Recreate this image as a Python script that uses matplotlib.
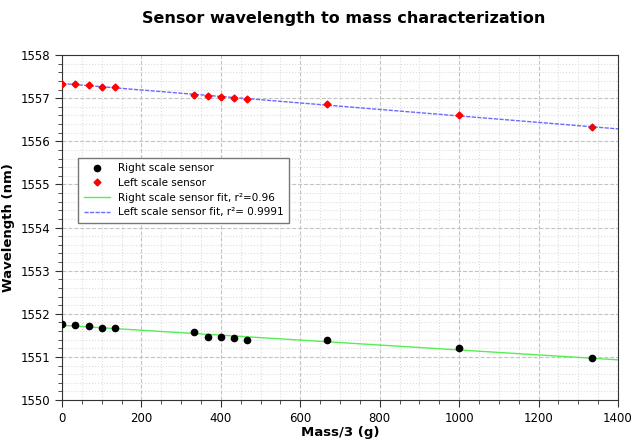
import numpy as np
import matplotlib
matplotlib.use('Agg')
import matplotlib.pyplot as plt
from matplotlib.ticker import MultipleLocator

# data
mass = [0, 33.3, 66.7, 100, 133.3, 333.3, 366.7, 400, 433.3, 466.7, 666.7, 1000, 1333.3]
right_sensor = [1551.76, 1551.75, 1551.71, 1551.68, 1551.67, 1551.57, 1551.47, 1551.46,
                1551.43, 1551.40, 1551.39, 1551.21, 1550.97]
left_sensor = [1557.33, 1557.32, 1557.30, 1557.27, 1557.25, 1557.08, 1557.06, 1557.03,
               1557.00, 1556.98, 1556.86, 1556.60, 1556.33]
r2_right = '0.96'
r2_left = '0.9991'

fig = plt.figure(figsize=(6.42, 4.4), dpi=100)
ax = fig.add_axes([0.0966, 0.0909, 0.866, 0.784])

fit_x = np.array([0, 1400])
pr = np.polyfit(mass, right_sensor, 1)
pl = np.polyfit(mass, left_sensor, 1)

ax.plot(mass, right_sensor, 'o', color='black', markersize=4.5, label='Right scale sensor', zorder=4)
ax.plot(mass, left_sensor, 'D', color='#ff0000', markersize=3.5, label='Left scale sensor', zorder=4)
ax.plot(fit_x, np.polyval(pr, fit_x), '-', color='#55ee55', linewidth=1,
        label='Right scale sensor fit, r\u00b2=' + r2_right, zorder=3)
ax.plot(fit_x, np.polyval(pl, fit_x), '--', color='#6b6bff', linewidth=1, dashes=(3, 1),
        label='Left scale sensor fit, r\u00b2= ' + r2_left, zorder=3)

ax.set_xlim(0, 1400)
ax.set_ylim(1550, 1558)
ax.xaxis.set_major_locator(MultipleLocator(200))
ax.xaxis.set_minor_locator(MultipleLocator(50))
ax.yaxis.set_major_locator(MultipleLocator(1))
ax.yaxis.set_minor_locator(MultipleLocator(0.2))
ax.grid(which='major', color='#c4c4c4', linestyle='--', linewidth=0.8)
ax.grid(which='minor', color='#dddddd', linestyle=':', linewidth=0.8)
ax.set_axisbelow(True)
ax.tick_params(which='major', direction='out', length=5, labelsize=8.5, color='#333333')
ax.tick_params(which='minor', direction='out', length=3, color='#333333')
for s in ax.spines.values():
    s.set_color('#333333')

ax.set_xlabel('Mass/3 (g)', fontsize=9.5, fontweight='bold', labelpad=1)
ax.set_ylabel('Wavelength (nm)', fontsize=9.5, fontweight='bold')
fig.suptitle('Sensor wavelength to mass characterization', x=0.535, y=0.975,
             fontsize=11.5, fontweight='bold')

leg = ax.legend(loc='upper left', bbox_to_anchor=(0.02, 0.716), fontsize=7.5,
                fancybox=False, edgecolor='#777777', framealpha=1,
                handlelength=2.5, borderpad=0.5, labelspacing=0.45)
leg.get_frame().set_linewidth(1)

fig.savefig('out.png', dpi=100)
